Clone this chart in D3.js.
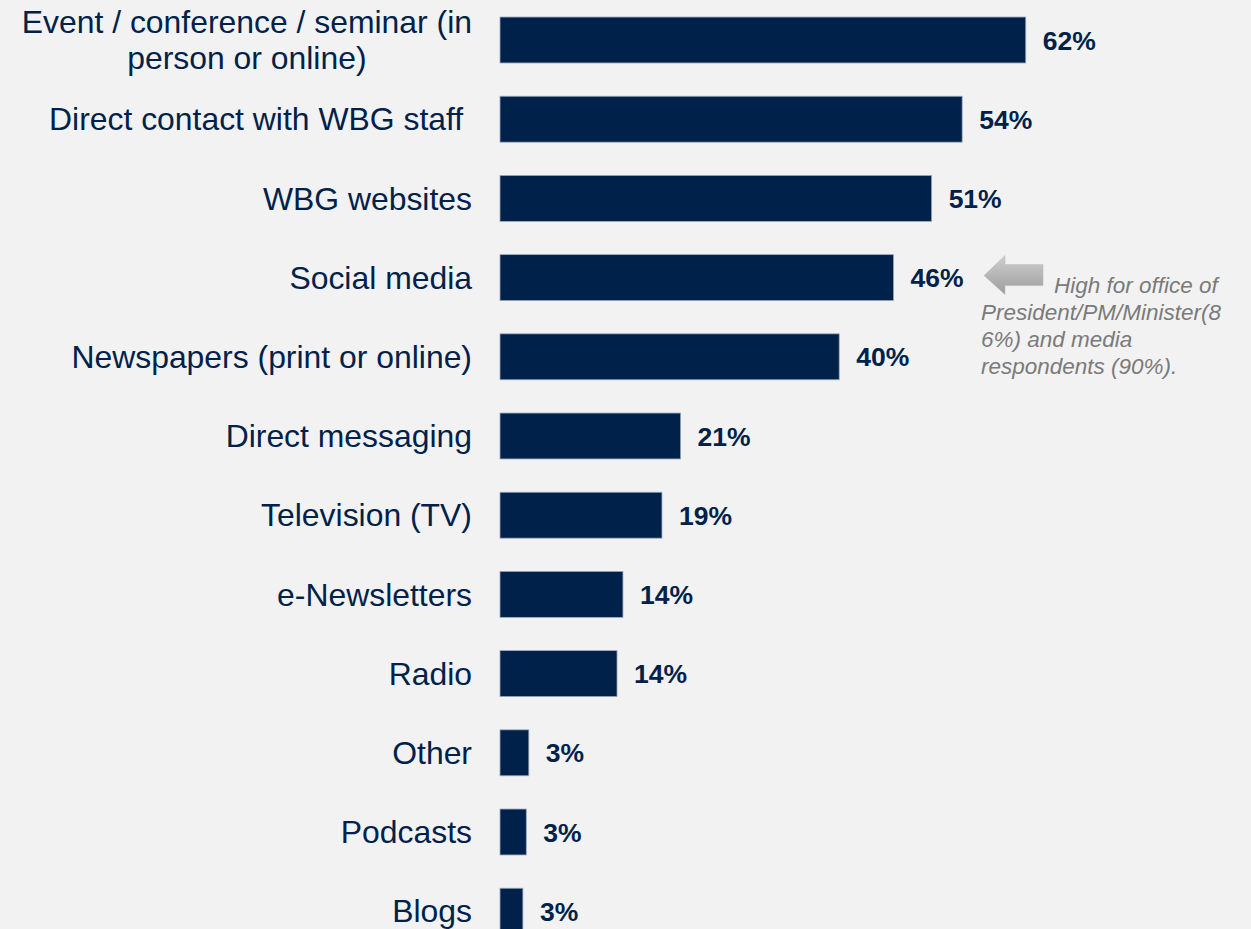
<!DOCTYPE html>
<html><head><meta charset="utf-8">
<script src="https://cdn.jsdelivr.net/npm/d3@7"></script>
<style>
html,body{margin:0;padding:0;background:#f2f2f2;}
svg{display:block;}
</style></head>
<body>
<svg id="chart" width="1251" height="929"></svg>
<script>
const categories = [
  ["Event / conference / seminar (in", "person or online)"],
  ["Direct contact with WBG staff "],
  ["WBG websites"],
  ["Social media"],
  ["Newspapers (print or online)"],
  ["Direct messaging"],
  ["Television (TV)"],
  ["e-Newsletters"],
  ["Radio"],
  ["Other"],
  ["Podcasts"],
  ["Blogs"]
];
const values = [62.0, 54.5, 50.9, 46.4, 40.0, 21.3, 19.1, 14.5, 13.8, 3.4, 3.1, 2.7];
const valueLabels = ["62%", "54%", "51%", "46%", "40%", "21%", "19%", "14%", "14%", "3%", "3%", "3%"];
const noteLines = ["High for office of", "President/PM/Minister(8", "6%) and media", "respondents (90%)."];

const svg = d3.select("#chart");
const navy = "#00224a";
const font = "'Liberation Sans', Arial, sans-serif";

const idx = d3.range(categories.length);
const y = d3.scaleBand().domain(idx).range([0.4, 950.8]).paddingInner(0.42).paddingOuter(0.21);
const x = d3.scaleLinear().domain([0, 100]).range([500, 1348]);

// bars
svg.append("g").selectAll("rect").data(idx).join("rect")
  .attr("x", x(0))
  .attr("y", i => y(i))
  .attr("width", i => x(values[i]) - x(0))
  .attr("height", y.bandwidth())
  .attr("fill", navy)
  .attr("stroke", "#9aa9bd")
  .attr("stroke-width", 0.8);

// value labels
svg.append("g").selectAll("text").data(idx).join("text")
  .attr("x", i => x(values[i]) + 17)
  .attr("y", i => y(i) + y.bandwidth() / 2)
  .attr("dy", "0.36em")
  .attr("font-family", font)
  .attr("font-size", 26.5)
  .attr("font-weight", "bold")
  .attr("fill", navy)
  .text(i => valueLabels[i]);

// category labels
const labelRight = 472;
const lineStep = 36;
const lg = svg.append("g");
idx.forEach(i => {
  const lines = categories[i];
  const cy = y(i) + y.bandwidth() / 2;
  const t = lg.append("text")
    .attr("font-family", font)
    .attr("font-size", 31.9)
    .attr("fill", navy)
    .attr("xml:space", "preserve")
    .style("white-space", "pre");
  const spans = lines.map((ln, k) => t.append("tspan")
    .attr("y", cy + (k - (lines.length - 1) / 2) * lineStep)
    .attr("dy", "0.35em")
    .text(ln));
  if (lines.length === 1) {
    spans[0].attr("x", labelRight).attr("text-anchor", "end");
  } else {
    const w = d3.max(spans, s => s.node().getComputedTextLength());
    const cx = labelRight - w / 2;
    spans.forEach(s => s.attr("x", cx).attr("text-anchor", "middle"));
  }
});

// annotation arrow
const defs = svg.append("defs");
const grad = defs.append("linearGradient").attr("id", "ag").attr("x1", 0).attr("y1", 0).attr("x2", 0).attr("y2", 1);
grad.append("stop").attr("offset", "0%").attr("stop-color", "#cfcfcf");
grad.append("stop").attr("offset", "100%").attr("stop-color", "#9c9c9c");
const ay = y(3) + y.bandwidth() / 2 - 2;
const arrowPts = [[984, ay], [1005, ay - 20], [1005, ay - 11], [1043, ay - 11], [1043, ay + 10], [1005, ay + 10], [1005, ay + 19]];
svg.append("polygon")
  .attr("points", arrowPts.map(p => p.join(",")).join(" "))
  .attr("fill", "url(#ag)")
  .attr("stroke", "#bdbdbd")
  .attr("stroke-width", 0.6);

// annotation text
const noteX = [1054, 981, 981, 981];
const noteY0 = 285;
svg.append("g").selectAll("text").data(noteLines).join("text")
  .attr("x", (d, k) => noteX[k])
  .attr("y", (d, k) => noteY0 + k * 27)
  .attr("dy", "0.35em")
  .attr("font-family", font)
  .attr("font-size", 22.5)
  .attr("font-style", "italic")
  .attr("fill", "#7a7a7a")
  .text(d => d);
</script>
</body></html>
